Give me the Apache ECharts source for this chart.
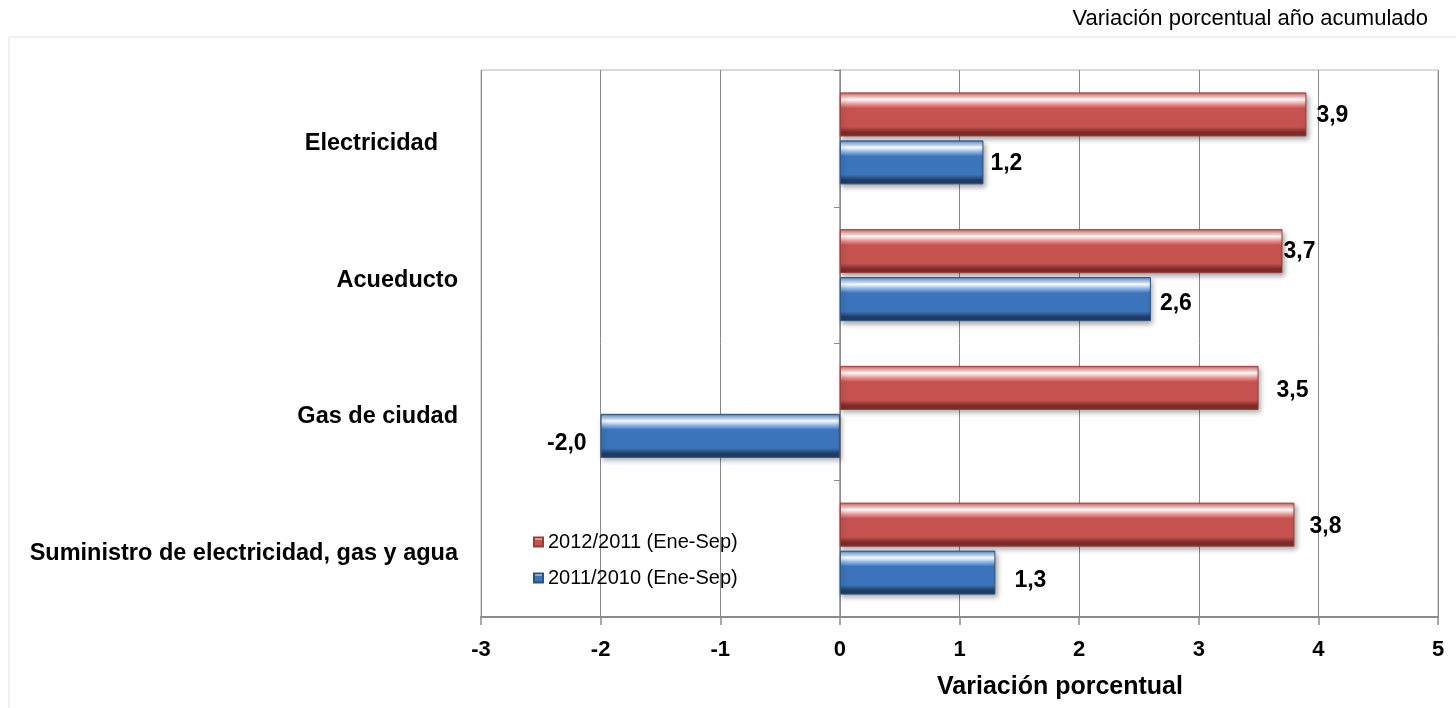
<!DOCTYPE html>
<html>
<head>
<meta charset="utf-8">
<style>
  html, body { margin: 0; padding: 0; background: #fff; }
  #chart { width: 1456px; height: 708px; }
</style>
<script src="https://cdn.jsdelivr.net/npm/echarts@6/dist/echarts.min.js"></script>
</head>
<body>
<div id="chart"></div>
<script>
// Categories, top to bottom
const categories = ['Electricidad', 'Acueducto', 'Gas de ciudad', 'Suministro de electricidad, gas y agua'];
// Series names
const seriesNames = ['2012/2011 (Ene-Sep)', '2011/2010 (Ene-Sep)'];
// Year-to-date percentage change per category
const values2012 = [3.9, 3.7, 3.5, 3.8];
const values2011 = [1.2, 2.6, -2.0, 1.3];
// X axis range
const xMin = -3, xMax = 5, xStep = 1;

// Small per-label nudges [dx, dy] for the value labels
const nudgeRed = [[2, 1], [-7, 1], [10, 3], [7, 2]];
const nudgeBlue = [[-1, 1], [1, 5], [-6, 8], [11, 8]];

const FONT = "'Liberation Sans', Arial, sans-serif";
const GRID_LEFT = 481, GRID_RIGHT = 18;

function fmt(v) { return v.toFixed(1).replace('.', ','); }

// Bevelled bar fill: thin edge, glossy highlight near the top, dark lower rim
function gloss(edge, hi, base, dark) {
  return new echarts.graphic.LinearGradient(0, 0, 0, 1, [
    { offset: 0, color: edge },
    { offset: 0.06, color: hi },
    { offset: 0.16, color: '#ffffff' },
    { offset: 0.26, color: hi },
    { offset: 0.36, color: base },
    { offset: 0.78, color: base },
    { offset: 0.9, color: dark },
    { offset: 1, color: dark }
  ]);
}

const redFill = gloss('#b9514e', '#e99d9b', '#c65350', '#7e2c2a');
const blueFill = gloss('#3d6fae', '#8fb7e6', '#3c75bb', '#1f3d66');

function makeData(vals, nudges) {
  return vals.map((v, i) => {
    const label = { offset: nudges[i] };
    if (v < 0) label.position = 'left';
    return { value: v, label: label };
  });
}

function barSeries(name, vals, fill, border, nudges) {
  return {
    name: name,
    type: 'bar',
    barWidth: 44,
    barGap: '9%',
    data: makeData(vals, nudges),
    itemStyle: {
      color: fill,
      borderColor: border,
      borderWidth: 1,
      shadowColor: 'rgba(0,0,0,0.35)',
      shadowBlur: 5,
      shadowOffsetX: 2,
      shadowOffsetY: 3
    },
    label: {
      show: true,
      position: 'right',
      distance: 8,
      formatter: p => fmt(p.value),
      fontFamily: FONT,
      fontWeight: 'bold',
      fontSize: 23,
      color: '#000'
    }
  };
}

const chart = echarts.init(document.getElementById('chart'), null, { renderer: 'canvas' });

// Pixel distance from the grid's left edge to x = 0, used to park the category ticks on the zero line
const plotW = 1456 - GRID_LEFT - GRID_RIGHT;
const zeroShift = (0 - xMin) / (xMax - xMin) * plotW;

// Category label style (the first label sits a little further from the axis)
const catLabel = {
  fontFamily: FONT, fontWeight: 'bold', fontSize: 23.5, color: '#000',
  verticalAlign: 'top', lineHeight: 10
};

chart.setOption({
  animation: false,
  backgroundColor: '#ffffff',
  graphic: [
    {
      type: 'rect',
      shape: { x: 9, y: 37, width: 1460, height: 680 },
      style: { fill: 'none', stroke: '#ececec', lineWidth: 1.5 },
      silent: true, z: -10
    },
    {
      type: 'text',
      style: {
        x: 1428, y: 19, text: 'Variación porcentual año acumulado',
        textAlign: 'right', textVerticalAlign: 'middle',
        font: '22px ' + FONT, fill: '#000'
      }
    },
    {
      type: 'text',
      style: {
        x: 1060, y: 687, text: 'Variación porcentual',
        textAlign: 'center', textVerticalAlign: 'middle',
        font: 'bold 25px ' + FONT, fill: '#000'
      }
    }
  ],
  legend: {
    data: seriesNames,
    orient: 'vertical',
    left: 533,
    top: 532,
    padding: 0,
    itemWidth: 9,
    itemHeight: 9,
    itemGap: 16,
    icon: 'rect',
    textStyle: { fontFamily: FONT, fontSize: 20, color: '#000', padding: [0, 0, 0, 0] }
  },
  grid: {
    left: GRID_LEFT, right: GRID_RIGHT, top: 70, bottom: 91,
    show: true, borderColor: '#b3b3b3', borderWidth: 1,
    containLabel: false
  },
  xAxis: {
    type: 'value',
    min: xMin, max: xMax, interval: xStep,
    axisLine: { show: true, onZero: false, lineStyle: { color: '#8c8c8c', width: 2 } },
    axisTick: { show: true, length: 8, lineStyle: { color: '#8c8c8c', width: 1.5 } },
    splitLine: { show: true, lineStyle: { color: '#8a8a8a', width: 1 } },
    axisLabel: {
      margin: 22, fontFamily: FONT, fontWeight: 'bold', fontSize: 22, color: '#000',
      formatter: v => String(v)
    }
  },
  yAxis: [
    {
      type: 'category',
      inverse: true,
      data: categories.map((c, i) => i === 0
        ? { value: c, textStyle: Object.assign({}, catLabel, { padding: [0, 20, 0, 0] }) }
        : c),
      axisLine: { show: false },
      axisTick: { show: false },
      axisLabel: Object.assign({ margin: 23 }, catLabel),
      splitLine: { show: false }
    },
    {
      type: 'category',
      inverse: true,
      position: 'left',
      offset: -zeroShift,
      data: categories,
      axisLine: { show: true, onZero: false, lineStyle: { color: '#8c8c8c', width: 1.5 } },
      axisTick: { show: true, length: 6, lineStyle: { color: '#8c8c8c' } },
      axisLabel: { show: false },
      splitLine: { show: false }
    }
  ],
  series: [
    barSeries(seriesNames[0], values2012, redFill, '#9c3d3a', nudgeRed),
    barSeries(seriesNames[1], values2011, blueFill, '#2c5282', nudgeBlue)
  ]
});
</script>
</body>
</html>
